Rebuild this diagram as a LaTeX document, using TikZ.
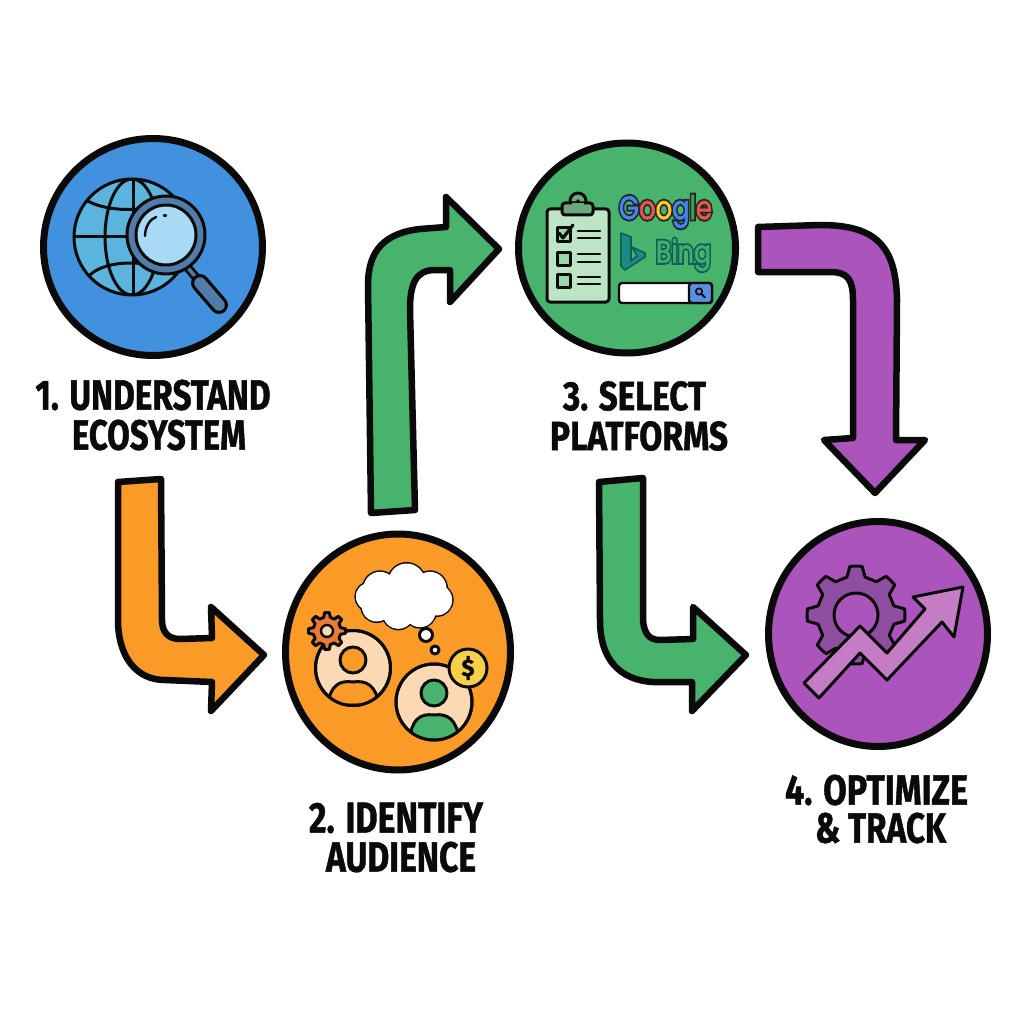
\documentclass[tikz,border=0pt]{standalone}
\usepackage{fontspec}
\usepackage{graphicx}
\usetikzlibrary{shapes.geometric}
\setmainfont{Fira Sans}[BoldFeatures={FakeBold=1.2}]
\newfontfamily\logof{Poppins}[FakeBold=2]
\newfontfamily\logofo{Poppins}[FakeBold=14]
\definecolor{cblue}{HTML}{4191DF}
\definecolor{corange}{HTML}{F99B26}
\definecolor{cgreen}{HTML}{47B36C}
\definecolor{cpurple}{HTML}{AB54BC}
\definecolor{ink}{HTML}{0A0A0A}
\definecolor{globefill}{HTML}{5BB4DE}
\definecolor{lensring}{HTML}{4F7CA8}
\definecolor{lensfill}{HTML}{A8DAF5}
\definecolor{boardfill}{HTML}{BCE5C5}
\definecolor{clipfill}{HTML}{6BA87A}
\definecolor{skin}{HTML}{FBD9B5}
\definecolor{gearorange}{HTML}{E87B35}
\definecolor{coin}{HTML}{F9CF4A}
\definecolor{gearpurple}{HTML}{8E4FA0}
\definecolor{uparrow}{HTML}{C47CC4}
\definecolor{btn}{HTML}{5B8FE0}
\definecolor{gblue}{HTML}{4285F4}
\definecolor{gred}{HTML}{E5574B}
\definecolor{gyellow}{HTML}{FBC531}
\definecolor{ggreen}{HTML}{34A853}
\definecolor{bingteal}{HTML}{1B8A84}
\definecolor{bingdark}{HTML}{0F5F55}
\tikzset{
  stepcirc/.style={ellipse,draw=ink,line width=7,inner sep=0,outer sep=0},
  flowarrow/.style={draw=ink,line width=6.5,line join=round},
  icon/.style={draw=ink,line width=3,line join=round,line cap=round},
  iconthin/.style={draw=ink,line width=2.4,line join=round,line cap=round},
  labeltext/.style={inner sep=0,outer sep=0,text=ink},
}
\newcommand{\steplabel}[6]{\node[labeltext] (#1) at (#2,#3) {\resizebox{#4pt}{#5pt}{\bfseries #6}};}
\newcommand{\geartooth}[6]{% cx cy router rroot teeth fill
  \begin{scope}[shift={(#1,#2)}]
  \pgfmathsetmacro{\stepa}{360/#5}
  \draw[icon,fill=#6] (0:#3)
    \foreach \k in {1,...,#5}{
      -- ({(\k-1)*\stepa+0.16*\stepa}:#3)
      -- ({(\k-1)*\stepa+0.30*\stepa}:#4)
      -- ({(\k-1)*\stepa+0.70*\stepa}:#4)
      -- ({(\k-1)*\stepa+0.84*\stepa}:#3)
      -- ({\k*\stepa}:#3)
    } -- cycle;
  \end{scope}}
\begin{document}
\begin{tikzpicture}[x=1pt,y=-1pt]
\useasboundingbox (0,0) rectangle (1024,1024);
\fill[white] (0,0) rectangle (1024,1024);

% ---- block arrows
\draw[flowarrow,fill=corange] (118,482) -- (161,479) -- (162,620)
  .. controls (162,632) and (168,639) .. (180,639) -- (212,638) -- (211,607) -- (264,655)
  -- (211,711) -- (212,682) -- (165,680) .. controls (135,680) and (118,655) .. (118,620) -- cycle;
\draw[flowarrow,fill=cgreen] (371,513) -- (415,510) -- (410,310)
  .. controls (410,285) and (415,270) .. (435,270) -- (450,270) -- (450,302) -- (499,249)
  -- (446,197) -- (446,227) -- (420,229) .. controls (385,233) and (368,250) .. (368,285) -- cycle;
\draw[flowarrow,fill=cpurple] (758,227) -- (820,225) .. controls (875,225) and (896,245) .. (897,300)
  -- (896,440) -- (925,440) -- (875,493) -- (824,440) -- (853,438) -- (853,300)
  .. controls (853,280) and (848,272) .. (830,272) -- (758,272) -- cycle;
\draw[flowarrow,fill=cgreen] (599,482) -- (643,478) -- (643,620)
  .. controls (644,632) and (648,640) .. (660,640) -- (693,639) -- (693,607) -- (746,655)
  -- (692,711) -- (692,682) -- (653,682) .. controls (620,680) and (600,660) .. (600,620) -- cycle;

% ---- circles
\node[stepcirc,fill=cblue,minimum width=219,minimum height=217] (s1) at (153,247) {};
\node[stepcirc,fill=corange,minimum width=225,minimum height=236] (s2) at (398,652) {};
\node[stepcirc,fill=cgreen,minimum width=217,minimum height=210] (s3) at (627,248) {};
\node[stepcirc,fill=cpurple,minimum width=219,minimum height=225] (s4) at (878,634) {};

% ---- icon 1
\fill[globefill] (132,237) circle[radius=58];
\begin{scope}
  \clip (132,237) circle[radius=58];
  \draw[icon] (132,237) ellipse[x radius=27,y radius=58];
  \draw[icon] (133,179) -- (133,295);
  \draw[icon] (74,236) -- (190,236);
  \draw[icon] (86,200) .. controls (105,212) and (150,214) .. (178,198);
  \draw[icon] (90,275) .. controls (105,260) and (150,258) .. (176,275);
\end{scope}
\draw[icon] (132,237) circle[radius=58];
\draw[line width=9,ink,line cap=round] (188,268) -- (200,282);
\draw[line width=3.5,lensring] (188,268) -- (200,282);
\draw[line width=18,ink,line cap=round] (200,283) -- (219,305);
\draw[line width=11.5,lensring,line cap=round] (200,283) -- (219,305);
\draw[icon,fill=lensring] (166,235) circle[radius=39];
\draw[icon,fill=lensfill] (166,235) circle[radius=30];
\draw[iconthin] (145,236) .. controls (145,227) and (150,219) .. (156,217);
\draw[iconthin] (164,215.5) -- (166,215.5);

% ---- icon 2
\foreach \x/\y/\r in {300/190/45,380/170/50,450/190/45,470/225/42,420/260/42,355/265/42,290/245/40,270/215/38}
  \draw[ink,line width=6] ({280+\x/3},{525+\y/3}) circle[radius={\r/3}];
\foreach \x/\y/\r in {300/190/45,380/170/50,450/190/45,470/225/42,420/260/42,355/265/42,290/245/40,270/215/38,370/215/70}
  \fill[white] ({280+\x/3},{525+\y/3}) circle[radius={\r/3+1.5}];
\draw[icon,fill=white] (426,635) circle[radius=6.5];
\draw[icon,fill=white] (435,650) circle[radius=4];
\draw[icon,fill=skin] (353,668) circle[radius=37.5];
\begin{scope}
  \clip (353,668) circle[radius=37.5];
  \draw[icon,fill=corange] (328,705) .. controls (330,685) and (340,680) .. (353,682)
    .. controls (366,680) and (376,685) .. (379,705) -- cycle;
\end{scope}
\draw[icon] (353,668) circle[radius=37.5];
\draw[icon,fill=corange] (353,660) circle[radius=13];
\geartooth{327}{631}{18.5}{14}{8}{gearorange}
\draw[iconthin,fill=skin] (327,631) circle[radius=6];
\draw[icon,fill=skin] (434,702) circle[radius=38];
\begin{scope}
  \clip (434,702) circle[radius=38];
  \draw[icon,fill=cgreen] (410,740) .. controls (411,720) and (420,713) .. (434,715)
    .. controls (448,713) and (457,720) .. (459,740) -- cycle;
\end{scope}
\draw[icon] (434,702) circle[radius=38];
\draw[icon,fill=cgreen] (434,693) circle[radius=13];
\draw[icon,fill=coin] (468,668) circle[radius=19];
\node[inner sep=0,text=ink,font=\bfseries\fontsize{24}{24}\selectfont] (dollar) at (468,668) {\$};

% ---- icon 3
\draw[icon,fill=boardfill,rounded corners=3] (547,209) rectangle (609,302);
\draw[icon,fill=clipfill] (578,201) circle[radius=8];
\draw[icon,fill=clipfill,rounded corners=3] (562,203) rectangle (593,215);
\fill[clipfill] (572,203) rectangle (584,206);
\fill[ink] (578,201) circle[radius=1.8];
\foreach \y in {228,252,274}
  \draw[icon,fill=boardfill!70!cgreen] (557,\y) rectangle (570,{\y+13});
\draw[icon,line width=3.2] (559,233) -- (563,238) -- (573,225);
\foreach \y in {231,238,254,262,277,284}
  \draw[iconthin,line width=2.8] (578,\y) -- (600,\y);
\node[inner sep=0,outer sep=0] (googleo) at (665.5,211.5) {\resizebox*{93pt}{33pt}{\logofo\textcolor{black!85}{Google}}};
\node[inner sep=0,outer sep=0] (google) at (665.5,211.5) {\resizebox*{93pt}{33pt}{\logof\textcolor{gblue}{G}\textcolor{gred}{o}\textcolor{gyellow}{o}\textcolor{gblue}{g}\textcolor{ggreen}{l}\textcolor{gred}{e}}};
\draw[draw=bingdark,line width=1.6,fill=bingteal,line join=round] (621,233) -- (631,237) -- (631,261) -- (637,256) -- (632,247) -- (645,253) -- (645,257) -- (625,270) -- (621,266) -- cycle;
\node[inner sep=0,outer sep=0] (bingo) at (683.5,255) {\resizebox*{55pt}{32pt}{\logofo\textcolor{bingdark}{Bing}}};
\node[inner sep=0,outer sep=0] (bing) at (683.5,255) {\resizebox*{55pt}{32pt}{\logof\textcolor{cgreen!85!bingteal}{Bing}}};
\draw[iconthin,fill=white,rounded corners=3] (619,283) rectangle (712,303);
\draw[iconthin,fill=btn,rounded corners=3] (689,283) rectangle (712,303);
\draw[iconthin,line width=1.6] (699,291.5) circle[radius=3.2];
\draw[iconthin,line width=1.8] (701.5,294) -- (705,297.5);

% ---- icon 4
\geartooth{856}{615}{49}{39}{8}{gearpurple}
\draw[icon,fill=cpurple] (856,615) circle[radius=22];
\draw[icon,fill=uparrow] (804,683) -- (860,626) -- (887,653) -- (925,609) -- (913,597) -- (963,587)
  -- (954,637) -- (942,622) -- (887,680) -- (860,653) -- (819,698) -- cycle;

% ---- labels
\steplabel{l1a}{153}{395}{235}{30}{1. UNDERSTAND}
\steplabel{l1b}{159}{435}{174}{30}{ECOSYSTEM}
\steplabel{l2a}{396}{818}{174}{30}{2. IDENTIFY}
\steplabel{l2b}{401}{857}{150}{30}{AUDIENCE}
\steplabel{l3a}{634.5}{396}{143}{29}{3. SELECT}
\steplabel{l3b}{639}{436}{178}{29}{PLATFORMS}
\steplabel{l4a}{876.5}{790}{183}{30}{4. OPTIMIZE}
\steplabel{l4b}{880.5}{828}{131}{30}{\& TRACK}
\end{tikzpicture}
\end{document}
